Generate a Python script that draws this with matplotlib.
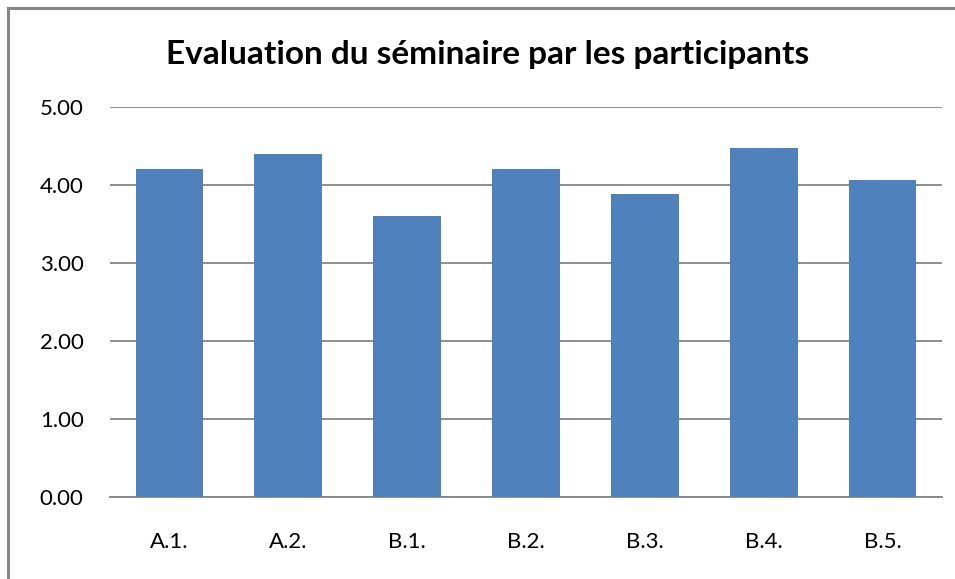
import matplotlib.pyplot as plt
from matplotlib.lines import Line2D

# data
categories = ['A.1.', 'A.2.', 'B.1.', 'B.2.', 'B.3.', 'B.4.', 'B.5.']
scores = [4.20, 4.40, 3.60, 4.20, 3.88, 4.47, 4.07]
yticks = [0, 1, 2, 3, 4, 5]

plt.rcParams['font.family'] = ['Liberation Sans Narrow', 'Lato', 'DejaVu Sans']

fig = plt.figure(figsize=(9.55, 5.79), dpi=100)
ax = fig.add_axes([110 / 955, 82 / 579, 832 / 955, 390 / 579])

ax.bar(range(len(categories)), scores, width=0.57, color='#4f81bd', zorder=3)

ax.set_xlim(-0.5, len(categories) - 0.5)
ax.set_ylim(0, 5)
ax.set_yticks(yticks)
ax.set_yticklabels([f'{v:.2f}' for v in yticks])
ax.set_xticks(range(len(categories)))
ax.set_xticklabels(categories)
ax.tick_params(axis='both', length=0, labelsize=16, colors='black')
ax.tick_params(axis='x', pad=25)
ax.tick_params(axis='y', pad=19)

ax.yaxis.grid(True, color='#868686', linewidth=1.3, zorder=0)
for s in ['top', 'right', 'left']:
    ax.spines[s].set_visible(False)
ax.spines['bottom'].set_color('#868686')
ax.spines['bottom'].set_linewidth(1.3)

fig.text(488 / 955, 1 - 64 / 579, 'Evaluation du séminaire par les participants',
         ha='center', va='baseline', fontsize=24, fontweight='bold')

# chart-area border (top and left visible in the crop)
fig.add_artist(Line2D([8 / 955, 1], [1 - 8 / 579, 1 - 8 / 579], color='#868686', linewidth=2.2))
fig.add_artist(Line2D([8 / 955, 8 / 955], [0, 1 - 8 / 579], color='#868686', linewidth=2.2))

fig.savefig('out.png', dpi=100)
